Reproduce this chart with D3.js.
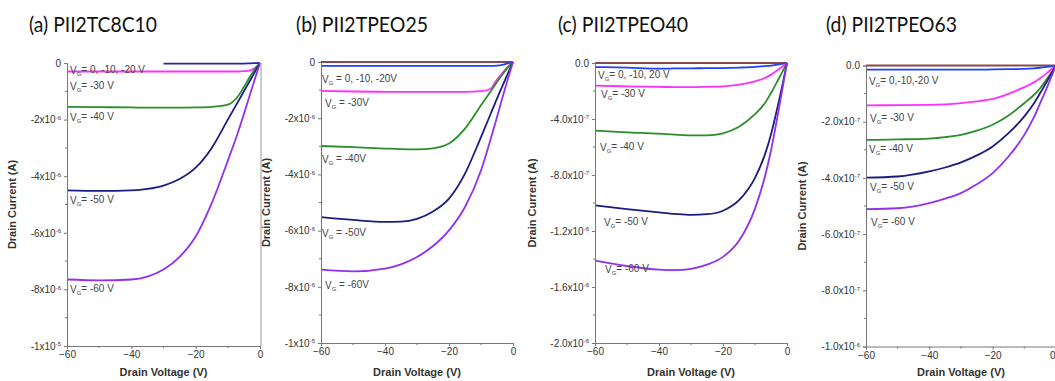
<!DOCTYPE html>
<html>
<head>
<meta charset="utf-8">
<script src="https://cdn.jsdelivr.net/npm/d3@7"></script>
<style>
  body { margin: 0; background: #fff; }
  svg { display: block; }
  .tick text { font-family: "Liberation Sans", Arial, sans-serif; font-size: 10px; fill: #333; }
  .axis-title { font-family: "Liberation Sans", Arial, sans-serif; font-size: 11px; font-weight: bold; fill: #333; }
  .curve-label { font-family: "Liberation Sans", Arial, sans-serif; font-size: 10px; fill: #444; }
  .panel-title { font-family: Lato, "Open Sans", sans-serif; font-size: 22px; fill: #111; }
</style>
</head>
<body>
<svg id="chart" width="1055" height="381"></svg>
<script>
// drain voltage grid shared by every curve (V)
const drainVoltage = [-60, -50, -40, -35, -30, -25, -20, -15, -10, -7, -5, -3, -1, 0];

// gate voltage series
// (a) PII2TC8C10, current in 1e-6 A
const a_vg10 = [null, null, null, null, -0.02, -0.02, -0.02, -0.02, -0.02, -0.02, -0.02, -0.01, -0.005, 0];
const a_vg30 = [-0.3, -0.3, -0.3, -0.3, -0.3, -0.3, -0.3, -0.3, -0.3, -0.3, -0.29, -0.26, -0.12, 0];
const a_vg40 = [-1.55, -1.56, -1.57, -1.58, -1.58, -1.58, -1.57, -1.55, -1.47, -1.2, -0.85, -0.46, -0.13, 0];
const a_vg50 = [-4.5, -4.52, -4.5, -4.45, -4.33, -4.1, -3.7, -3.0, -2.0, -1.4, -1.0, -0.6, -0.2, 0];
const a_vg60 = [-7.65, -7.68, -7.65, -7.55, -7.3, -6.85, -6.13, -4.95, -3.45, -2.5, -1.8, -1.07, -0.35, 0];

// (b) PII2TPEO25, current in 1e-6 A
const b_vg0 = [0, 0, 0, 0, 0, 0, 0, 0, 0, 0, 0, 0, 0, 0];
const b_vg10 = [-0.14, -0.14, -0.14, -0.14, -0.14, -0.14, -0.14, -0.14, -0.14, -0.14, -0.13, -0.09, -0.03, 0];
const b_vg30 = [-1.03, -1.05, -1.06, -1.06, -1.06, -1.06, -1.06, -1.06, -1.04, -0.95, -0.62, -0.35, -0.1, 0];
const b_vg40 = [-2.99, -3.03, -3.08, -3.1, -3.11, -3.07, -2.9, -2.37, -1.54, -1.05, -0.71, -0.4, -0.12, 0];
const b_vg50 = [-5.52, -5.62, -5.69, -5.68, -5.58, -5.32, -4.86, -3.97, -2.67, -1.85, -1.3, -0.78, -0.25, 0];
const b_vg60 = [-7.39, -7.45, -7.35, -7.2, -6.94, -6.55, -5.99, -5.16, -3.86, -2.75, -1.96, -1.15, -0.37, 0];

// (c) PII2TPEO40, current in 1e-7 A
const c_vg0 = [0, 0, 0, 0, 0, 0, 0, 0, 0, 0, 0, 0, 0, 0];
const c_vg10 = [-0.29, -0.33, -0.4, -0.39, -0.38, -0.37, -0.36, -0.33, -0.28, -0.22, -0.18, -0.12, -0.04, 0];
const c_vg30 = [-1.62, -1.67, -1.71, -1.72, -1.72, -1.7, -1.67, -1.55, -1.31, -1.08, -0.83, -0.52, -0.18, 0];
const c_vg40 = [-4.83, -4.95, -5.05, -5.12, -5.17, -5.17, -5.02, -4.55, -3.65, -2.9, -2.14, -1.3, -0.44, 0];
const c_vg50 = [-10.17, -10.43, -10.67, -10.78, -10.85, -10.8, -10.55, -9.8, -8.2, -6.6, -5.1, -3.2, -1.1, 0];
const c_vg60 = [-14.12, -14.5, -14.76, -14.8, -14.7, -14.4, -13.85, -12.7, -10.4, -8.2, -6.25, -3.85, -1.3, 0];

// (d) PII2TPEO63, current in 1e-7 A
const d_vg0 = [0, 0, 0, 0, 0, 0, 0, 0, 0, 0, 0, 0, 0, 0];
const d_vg10 = [-0.15, -0.15, -0.15, -0.15, -0.15, -0.15, -0.14, -0.13, -0.12, -0.1, -0.08, -0.05, -0.02, 0];
const d_vg30 = [-1.42, -1.41, -1.4, -1.38, -1.34, -1.28, -1.19, -1.01, -0.77, -0.6, -0.45, -0.28, -0.09, 0];
const d_vg40 = [-2.65, -2.63, -2.6, -2.55, -2.47, -2.32, -2.11, -1.78, -1.34, -1.05, -0.81, -0.5, -0.17, 0];
const d_vg50 = [-3.99, -3.95, -3.77, -3.63, -3.45, -3.2, -2.88, -2.41, -1.81, -1.35, -0.98, -0.6, -0.2, 0];
const d_vg60 = [-5.11, -5.08, -4.9, -4.74, -4.54, -4.23, -3.83, -3.24, -2.47, -1.85, -1.34, -0.82, -0.27, 0];

// tick labels: [mantissa, exponent]
const xTicks = [-60, -40, -20, 0];
const xMinor = [-50, -30, -10];
const yTicksAB = [0, -2, -4, -6, -8, -10];
const yLabelsAB = [["0", ""], ["-2x10", "-6"], ["-4x10", "-6"], ["-6x10", "-6"], ["-8x10", "-6"], ["-1x10", "-5"]];
const yMinorAB = [-1, -3, -5, -7, -9];
const yTicksC = [0, -4, -8, -12, -16, -20];
const yLabelsC = [["0.0", ""], ["-4.0x10", "-7"], ["-8.0x10", "-7"], ["-1.2x10", "-6"], ["-1.6x10", "-6"], ["-2.0x10", "-6"]];
const yMinorC = [-2, -6, -10, -14, -18];
const yTicksD = [0, -2, -4, -6, -8, -10];
const yLabelsD = [["0.0", ""], ["-2.0x10", "-7"], ["-4.0x10", "-7"], ["-6.0x10", "-7"], ["-8.0x10", "-7"], ["-1.0x10", "-6"]];
const yMinorD = [-1, -3, -5, -7, -9];

// curve labels (text after "V" with subscript G)
const labelsA = ["= 0, -10, -20 V", "= -30 V", "= -40 V", "= -50 V", "= -60 V"];
const labelsB = [" = 0, -10, -20V", " = -30V", " = -40V", " = -50V", " = -60V"];
const labelsC = ["= 0, -10, 20 V", "= -30 V", "= -40 V", "= -50 V", "= -60 V"];
const labelsD = ["= 0,-10,-20 V", "= -30 V", "= -40 V", "= -50 V", "= -60 V"];

const titles = ["(a) PII2TC8C10", "(b) PII2TPEO25", "(c) PII2TPEO40", "(d) PII2TPEO63"];

const colors = {
  vg0: "#8b4a4a",
  vg10: "#2040ff",
  vg10a: "#2424b0",
  vg30: "#ff30ff",
  vg40: "#2a8f2a",
  vg50: "#1c1c80",
  vg60: "#9030f0"
};

const panels = [
  {
    title: titles[0], titleX: 29, titleW: 128,
    x0: 67, x1: 260, y0: 63, y1: 346, yMin: -10,
    yTicks: yTicksAB, yLabels: yLabelsAB, yMinor: yMinorAB,
    series: [["vg10a", a_vg10], ["vg30", a_vg30], ["vg40", a_vg40], ["vg50", a_vg50], ["vg60", a_vg60]],
    labels: labelsA, labelPos: [[70, 74], [70, 90], [70, 121], [70, 204], [70, 293]],
    yTitleX: 16, rightFrame: true
  },
  {
    title: titles[1], titleX: 296, titleW: 132,
    x0: 321, x1: 513, y0: 62, y1: 343, yMin: -10,
    yTicks: yTicksAB, yLabels: yLabelsAB, yMinor: yMinorAB,
    series: [["vg0", b_vg0], ["vg10", b_vg10], ["vg30", b_vg30], ["vg40", b_vg40], ["vg50", b_vg50], ["vg60", b_vg60]],
    labels: labelsB, labelPos: [[322, 83], [325, 107], [322, 163], [322, 237], [325, 289]],
    yTitleX: 270
  },
  {
    title: titles[2], titleX: 558, titleW: 130,
    x0: 595, x1: 787, y0: 63, y1: 343, yMin: -20,
    yTicks: yTicksC, yLabels: yLabelsC, yMinor: yMinorC,
    series: [["vg0", c_vg0], ["vg10", c_vg10], ["vg30", c_vg30], ["vg40", c_vg40], ["vg50", c_vg50], ["vg60", c_vg60]],
    labels: labelsC, labelPos: [[598, 79], [601, 98], [600, 151], [604, 226], [605, 273]],
    yTitleX: 536
  },
  {
    title: titles[3], titleX: 826, titleW: 131,
    x0: 866, x1: 1056, y0: 65.5, y1: 346.5, yMin: -10,
    yTicks: yTicksD, yLabels: yLabelsD, yMinor: yMinorD,
    series: [["vg0", d_vg0], ["vg10", d_vg10], ["vg30", d_vg30], ["vg40", d_vg40], ["vg50", d_vg50], ["vg60", d_vg60]],
    labels: labelsD, labelPos: [[869, 85], [870, 122], [869, 153], [870, 191], [871, 226]],
    yTitleX: 806, lastTickEnd: true
  }
];

const svg = d3.select("#chart");

panels.forEach(p => {
  const g = svg.append("g");

  const x = d3.scaleLinear().domain([-60, 0]).range([p.x0, p.x1]);
  const y = d3.scaleLinear().domain([p.yMin, 0]).range([p.y1, p.y0]);

  // panel title
  g.append("text")
    .attr("class", "panel-title")
    .attr("x", p.titleX)
    .attr("y", 32)
    .attr("textLength", p.titleW)
    .attr("lengthAdjust", "spacingAndGlyphs")
    .text(p.title);

  // curves
  const line = d3.line()
    .defined(d => d[1] !== null)
    .x(d => x(d[0]))
    .y(d => y(d[1]))
    .curve(d3.curveMonotoneX);

  p.series.forEach(([key, values]) => {
    g.append("path")
      .datum(drainVoltage.map((v, i) => [v, values[i]]))
      .attr("fill", "none")
      .attr("stroke", colors[key])
      .attr("stroke-width", 1.8)
      .attr("d", line);
  });

  // y axis
  const yAxis = g.append("g")
    .attr("transform", `translate(${p.x0},0)`)
    .call(d3.axisLeft(y).tickValues(p.yTicks).tickSize(3).tickPadding(3).tickFormat(""));
  yAxis.selectAll(".tick text").each(function (d, i) {
    const t = d3.select(this);
    const [m, e] = p.yLabels[i];
    t.attr("dy", "0.32em");
    t.append("tspan").text(m);
    if (e) {
      t.append("tspan").attr("dy", "-0.55em").style("font-size", "6px").text(e);
    }
  });
  yAxis.append("g").selectAll("line")
    .data(p.yMinor)
    .join("line")
    .attr("x1", 0).attr("x2", -2)
    .attr("y1", d => y(d)).attr("y2", d => y(d))
    .attr("stroke", "#777");

  // x axis
  const xAxis = g.append("g")
    .attr("transform", `translate(0,${p.y1})`)
    .call(d3.axisBottom(x).tickValues(xTicks).tickSize(3).tickPadding(2).tickFormat(d3.format("d")));
  xAxis.append("g").selectAll("line")
    .data(xMinor)
    .join("line")
    .attr("x1", d => x(d)).attr("x2", d => x(d))
    .attr("y1", 0).attr("y2", 2)
    .attr("stroke", "#777");
  if (p.lastTickEnd) {
    // the "0" sits on the picture's edge; keep it inside
    xAxis.selectAll(".tick text").filter(d => d === 0).attr("text-anchor", "end").attr("dx", "-1");
  }

  [yAxis, xAxis].forEach(ax => {
    ax.select(".domain").attr("stroke", "#777");
    ax.selectAll(".tick line").attr("stroke", "#777");
  });

  if (p.rightFrame) {
    g.append("line")
      .attr("x1", p.x1 + 1).attr("x2", p.x1 + 1)
      .attr("y1", p.y0).attr("y2", p.y1)
      .attr("stroke", "#999");
  }

  // axis titles
  g.append("text")
    .attr("class", "axis-title")
    .attr("x", (p.x0 + p.x1) / 2)
    .attr("y", 376)
    .attr("text-anchor", "middle")
    .text("Drain Voltage (V)");

  g.append("text")
    .attr("class", "axis-title")
    .attr("transform", `translate(${p.yTitleX},${(p.y0 + p.y1) / 2}) rotate(-90)`)
    .attr("text-anchor", "middle")
    .text("Drain Current (A)");

  // curve labels
  p.labels.forEach((txt, i) => {
    const t = g.append("text")
      .attr("class", "curve-label")
      .attr("x", p.labelPos[i][0])
      .attr("y", p.labelPos[i][1]);
    t.append("tspan").text("V");
    t.append("tspan").attr("dy", "0.3em").style("font-size", "6px").text("G");
    t.append("tspan").attr("dy", "-0.3em").text(txt);
  });
});
</script>
</body>
</html>
